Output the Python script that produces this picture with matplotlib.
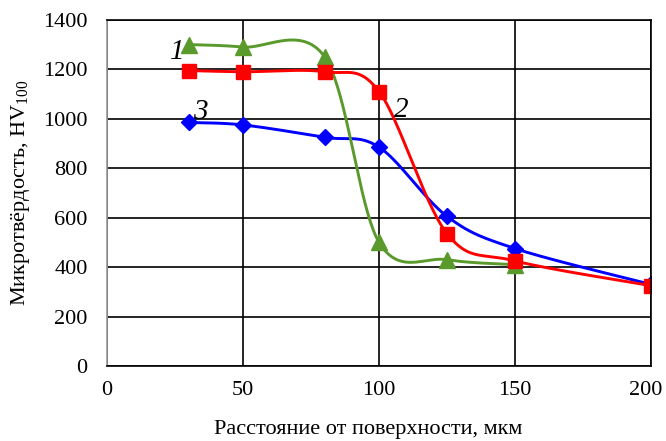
import numpy as np
import matplotlib.pyplot as plt
from matplotlib.transforms import ScaledTranslation

plt.rcParams['font.family'] = ['Liberation Serif', 'DejaVu Serif']
plt.rcParams['mathtext.fontset'] = 'custom'
plt.rcParams['mathtext.rm'] = 'Liberation Serif'

# данные
x1 = [30, 50, 80, 100, 125, 150]
y1 = [1300, 1290, 1250, 500, 430, 410]       # кривая 1 (зелёная)
x2 = [30, 50, 80, 100, 125, 150, 200]
y2 = [1195, 1190, 1190, 1110, 535, 425, 325]  # кривая 2 (красная)
x3 = [30, 50, 80, 100, 125, 150, 200]
y3 = [985, 975, 925, 885, 605, 475, 330]      # кривая 3 (синяя)

xlim = (0, 200)
ylim = (0, 1400)


def smooth(x, y, n=40):
    # сглаживание как в Excel (Catmull-Rom), в нормированных координатах
    sx, sy = 544.0 / (xlim[1] - xlim[0]), 346.0 / (ylim[1] - ylim[0])
    p = np.column_stack([np.asarray(x, float) * sx, np.asarray(y, float) * sy])
    p = np.vstack([p[0], p, p[-1]])
    out = []
    t = np.linspace(0, 1, n)[:, None]
    for i in range(1, len(p) - 2):
        p0, p1, p2, p3 = p[i - 1], p[i], p[i + 1], p[i + 2]
        c1 = p1 + (p2 - p0) / 6
        c2 = p2 - (p3 - p1) / 6
        seg = ((1 - t) ** 3) * p1 + 3 * ((1 - t) ** 2) * t * c1 + 3 * (1 - t) * t ** 2 * c2 + t ** 3 * p2
        out.append(seg)
    out = np.vstack(out)
    return out[:, 0] / sx, out[:, 1] / sy


fig = plt.figure(figsize=(6.66, 4.41), dpi=100)
ax = fig.add_axes([0.1607, 0.170, 0.817, 0.785])

green = '#5a9a2c'
for x, y, c, m, ms in [(x3, y3, '#0000ff', 'D', 8),
                       (x1, y1, green, '^', 11),
                       (x2, y2, '#ff0000', 's', 9.5)]:
    sx_, sy_ = smooth(x, y)
    ax.plot(sx_, sy_, color=c, lw=2.1)
    ax.plot(x, y, ls='none', marker=m, color=c, ms=ms)

num_font = dict(fontsize=21, style='italic', ha='center', va='center')
ax.text(26, 1271, '1', **num_font)
ax.text(108, 1036, '2', **num_font)
ax.text(34.2, 1028, '3', **num_font)

ax.set_xlim(*xlim)
ax.set_ylim(*ylim)
ax.set_xticks(np.arange(0, 201, 50))
ax.set_yticks(np.arange(0, 1401, 200))
ax.grid(True, color='black', lw=1.2)
for s in ax.spines.values():
    s.set_color('black')
    s.set_linewidth(1.2)
ax.spines['left'].set_color('#999999')
ax.tick_params(length=0, labelsize=16, pad=14)
ax.tick_params(axis='x', pad=11)
ax.set_xlabel('Расстояние от поверхности, мкм', fontsize=16, labelpad=12)
ax.xaxis.set_label_coords(0.48, -0.155)
ax.set_ylabel('Микротвёрдость, HV$_{100}$', fontsize=16, labelpad=8)

# последняя подпись оси X чуть левее, чтобы не обрезалась
fig.canvas.draw()
last = ax.get_xticklabels()[-1]
last.set_transform(last.get_transform() + ScaledTranslation(-5 / 100, 0, fig.dpi_scale_trans))

fig.savefig('out.png', dpi=100)
